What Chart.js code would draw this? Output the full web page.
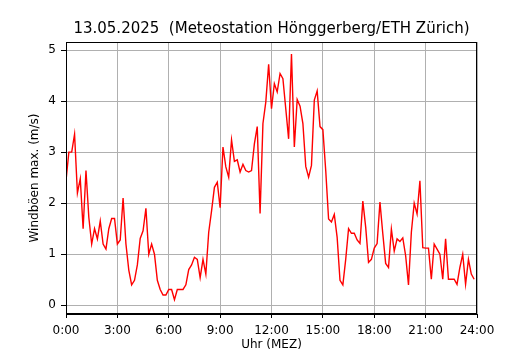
<!DOCTYPE html>
<html>
<head>
<meta charset="utf-8">
<script src="https://cdn.jsdelivr.net/npm/chart.js@4/dist/chart.umd.min.js"></script>
<style>
  html, body { margin: 0; padding: 0; background: #ffffff; }
  #wrap { width: 530px; height: 350px; }
</style>
</head>
<body>
<div id="wrap"><canvas id="c" width="530" height="350"></canvas></div>
<script>
// ---- data (10-minute max wind gusts, m/s) ----
const chartTitle = "13.05.2025  (Meteostation Hönggerberg/ETH Zürich)";
const xAxisLabel = "Uhr (MEZ)";
const yAxisLabel = "Windböen max. (m/s)";
const stepMinutes = 10;
const xTickHours = [0, 3, 6, 9, 12, 15, 18, 21, 24];
const yTickValues = [0, 1, 2, 3, 4, 5];
const windGustMax = [
  2.44, 3.00, 3.00, 3.35, 2.20, 2.48, 1.50, 2.64, 1.72, 1.20,
  1.50, 1.30, 1.65, 1.20, 1.10, 1.50, 1.70, 1.70, 1.20, 1.28,
  2.10, 1.20, 0.69, 0.40, 0.49, 0.79, 1.31, 1.46, 1.90, 1.00,
  1.20, 1.00, 0.49, 0.31, 0.20, 0.20, 0.31, 0.31, 0.11, 0.31,
  0.31, 0.31, 0.40, 0.70, 0.79, 0.94, 0.90, 0.54, 0.90, 0.61,
  1.43, 1.85, 2.31, 2.41, 1.91, 3.10, 2.71, 2.51, 3.24, 2.82,
  2.85, 2.61, 2.76, 2.64, 2.61, 2.64, 3.16, 3.50, 1.80, 3.56,
  3.98, 4.72, 3.85, 4.34, 4.18, 4.54, 4.44, 3.85, 3.26, 4.92,
  3.10, 4.03, 3.90, 3.56, 2.72, 2.51, 2.74, 4.02, 4.20, 3.50,
  3.44, 2.64, 1.69, 1.63, 1.78, 1.33, 0.49, 0.40, 0.90, 1.50,
  1.41, 1.41, 1.28, 1.21, 2.04, 1.53, 0.84, 0.90, 1.12, 1.21,
  2.02, 1.40, 0.82, 0.74, 1.49, 1.06, 1.30, 1.25, 1.32, 0.97,
  0.40, 1.43, 2.00, 1.79, 2.44, 1.13, 1.12, 1.12, 0.51, 1.20,
  1.10, 1.00, 0.51, 1.30, 0.51, 0.51, 0.51, 0.41, 0.74, 1.00,
  0.41, 0.90, 0.61, 0.51
];

const points = windGustMax.map((v, i) => ({ x: i * stepMinutes / 60, y: v }));

const FONT = "'DejaVu Sans', 'Liberation Sans', sans-serif";

const framePlugin = {
  id: 'frame',
  afterDraw(chart) {
    const { ctx, chartArea: a } = chart;
    ctx.save();
    ctx.strokeStyle = '#000000';
    ctx.lineWidth = 1;
    ctx.strokeRect(Math.round(a.left) + 0.5, Math.round(a.top) + 0.5,
                   Math.round(a.right - a.left) - 1, Math.round(a.bottom - a.top) - 1);
    ctx.fillStyle = '#000000';
    ctx.font = "15px " + FONT;
    ctx.textAlign = 'center';
    ctx.textBaseline = 'middle';
    ctx.fillText(chartTitle, (a.left + a.right) / 2, 29);
    ctx.restore();
  }
};

new Chart(document.getElementById('c'), {
  type: 'line',
  data: {
    datasets: [{
      data: points,
      borderColor: '#ff0000',
      borderWidth: 1.4,
      pointRadius: 0,
      tension: 0,
      fill: false
    }]
  },
  options: {
    responsive: false,
    animation: false,
    events: [],
    layout: { padding: { left: 0, right: 53, top: 42, bottom: 0 } },
    plugins: { legend: { display: false }, title: { display: false }, tooltip: { enabled: false } },
    scales: {
      x: {
        type: 'linear',
        min: 0, max: 24,
        afterFit(s) { s.height = 36; },
        afterBuildTicks(s) { s.ticks = xTickHours.map(v => ({ value: v })); },
        ticks: {
          callback: v => v + ':00',
          color: '#000000',
          font: { family: FONT, size: 12 },
          padding: 6,
          maxRotation: 0
        },
        grid: { color: '#b0b0b0', lineWidth: 1, tickLength: 4, tickColor: '#000000', tickWidth: 1 },
        border: { display: true, color: '#000000', width: 1 },
        title: { display: true, text: xAxisLabel, color: '#000000',
                 font: { family: FONT, size: 12, lineHeight: 1.2 }, padding: { top: 0, bottom: -2 } }
      },
      y: {
        type: 'linear',
        min: -0.171, max: 5.157,
        afterFit(s) { s.width = 66; },
        afterBuildTicks(s) { s.ticks = yTickValues.map(v => ({ value: v })); },
        ticks: {
          color: '#000000',
          font: { family: FONT, size: 12 },
          padding: 5
        },
        grid: { color: '#b0b0b0', lineWidth: 1, tickLength: 5, tickColor: '#000000', tickWidth: 1 },
        border: { display: true, color: '#000000', width: 1 },
        title: { display: true, text: yAxisLabel, color: '#000000',
                 font: { family: FONT, size: 12, lineHeight: 1.2 }, padding: { top: 28, bottom: 0 } }
      }
    }
  },
  plugins: [framePlugin]
});
</script>
</body>
</html>
